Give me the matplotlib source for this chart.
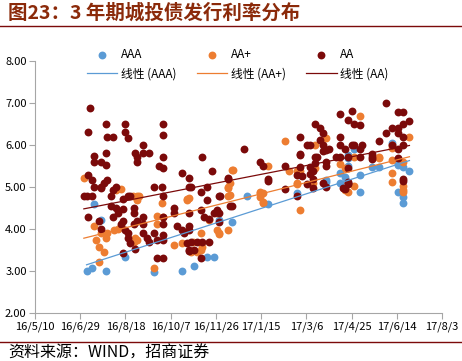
import numpy as np
import pandas as pd
import matplotlib
matplotlib.use("Agg")
import matplotlib.pyplot as plt
import matplotlib.dates as mdates

plt.rcParams['font.family'] = ['Noto Sans CJK SC', 'DejaVu Sans']

# --- data (issue date, coupon rate %) ---
AAA = [("2016-07-06", 3.00), ("2016-07-12", 3.06), ("2016-07-14", 4.60), ("2016-07-22", 4.21),
       ("2016-07-27", 3.00), ("2016-08-18", 3.34), ("2016-09-19", 2.98), ("2016-10-19", 3.01),
       ("2016-11-02", 3.12), ("2016-11-16", 3.34), ("2016-11-24", 3.34), ("2016-11-29", 4.21),
       ("2016-12-14", 4.17), ("2016-12-30", 4.79), ("2017-01-23", 4.60), ("2017-02-24", 4.86),
       ("2017-02-27", 5.29), ("2017-03-28", 5.17), ("2017-03-28", 5.13), ("2017-04-12", 5.34),
       ("2017-04-12", 5.09), ("2017-04-18", 5.23), ("2017-04-21", 5.76), ("2017-04-21", 5.70),
       ("2017-04-21", 5.50), ("2017-04-28", 5.90), ("2017-04-28", 5.96), ("2017-05-04", 4.88),
       ("2017-05-04", 5.29), ("2017-05-18", 5.48), ("2017-05-25", 5.48), ("2017-06-09", 6.04),
       ("2017-06-15", 5.55), ("2017-06-15", 5.52), ("2017-06-15", 4.88), ("2017-06-21", 5.48),
       ("2017-06-21", 4.77), ("2017-06-21", 4.63), ("2017-06-28", 5.38)]

AA_PLUS = [("2016-07-03", 5.21), ("2016-07-14", 4.06), ("2016-07-16", 3.74), ("2016-07-20", 3.22),
           ("2016-07-20", 3.58), ("2016-07-22", 3.90), ("2016-07-25", 3.46), ("2016-07-27", 3.78),
           ("2016-07-29", 3.90), ("2016-08-05", 3.98), ("2016-08-08", 4.93), ("2016-08-10", 4.00),
           ("2016-08-13", 4.95), ("2016-08-13", 4.06), ("2016-08-26", 4.79), ("2016-08-27", 3.70),
           ("2016-08-29", 3.78), ("2016-08-31", 4.69), ("2016-08-31", 4.79), ("2016-08-31", 3.74),
           ("2016-09-02", 4.79), ("2016-09-19", 3.06), ("2016-09-22", 4.11), ("2016-09-22", 4.31),
           ("2016-09-27", 4.61), ("2016-09-29", 4.29), ("2016-10-11", 3.62), ("2016-10-19", 3.66),
           ("2016-10-25", 4.71), ("2016-10-25", 4.69), ("2016-10-27", 4.73), ("2016-10-30", 3.46),
           ("2016-11-01", 3.70), ("2016-11-05", 3.46), ("2016-11-09", 3.90), ("2016-11-09", 3.50),
           ("2016-11-11", 3.58), ("2016-11-18", 4.21), ("2016-11-27", 3.98), ("2016-11-27", 4.37),
           ("2016-11-29", 3.90), ("2016-11-29", 3.88), ("2016-12-09", 3.98), ("2016-12-09", 4.79),
           ("2016-12-09", 4.97), ("2016-12-09", 5.00), ("2016-12-12", 4.81), ("2016-12-12", 5.09),
           ("2016-12-14", 5.40), ("2016-12-15", 5.40), ("2017-01-14", 4.88), ("2017-01-14", 4.77),
           ("2017-01-14", 4.85), ("2017-01-17", 4.85), ("2017-01-17", 4.65), ("2017-01-17", 4.63),
           ("2017-01-23", 5.50), ("2017-02-10", 6.10), ("2017-02-15", 5.39), ("2017-02-24", 5.37),
           ("2017-02-24", 5.10), ("2017-02-24", 5.07), ("2017-02-27", 5.39), ("2017-02-27", 4.45),
           ("2017-03-13", 5.09), ("2017-03-16", 6.00), ("2017-03-16", 5.45), ("2017-03-28", 6.16),
           ("2017-04-12", 5.55), ("2017-04-18", 5.45), ("2017-04-18", 4.93), ("2017-04-21", 4.88),
           ("2017-04-28", 5.71), ("2017-04-28", 5.03), ("2017-05-04", 6.70), ("2017-05-25", 5.71),
           ("2017-05-25", 5.68), ("2017-06-09", 6.00), ("2017-06-09", 5.92), ("2017-06-09", 5.64),
           ("2017-06-09", 5.34), ("2017-06-09", 5.13), ("2017-06-21", 5.60), ("2017-06-21", 5.03),
           ("2017-06-21", 4.93), ("2017-06-21", 4.88), ("2017-06-28", 6.20)]

AA = [("2016-07-03", 4.79), ("2016-07-06", 4.79), ("2016-07-08", 6.30), ("2016-07-08", 5.29),
      ("2016-07-08", 4.29), ("2016-07-10", 6.87), ("2016-07-12", 5.17), ("2016-07-12", 4.79),
      ("2016-07-14", 5.75), ("2016-07-14", 5.60), ("2016-07-14", 5.01), ("2016-07-20", 4.20),
      ("2016-07-22", 5.60), ("2016-07-22", 4.97), ("2016-07-22", 5.01), ("2016-07-22", 4.00),
      ("2016-07-25", 5.09), ("2016-07-27", 5.52), ("2016-07-27", 6.50), ("2016-07-27", 5.80),
      ("2016-07-29", 6.20), ("2016-07-29", 5.17), ("2016-08-02", 4.79), ("2016-08-02", 4.55),
      ("2016-08-04", 6.20), ("2016-08-04", 4.93), ("2016-08-04", 4.29), ("2016-08-08", 5.01),
      ("2016-08-08", 4.49), ("2016-08-10", 4.37), ("2016-08-13", 4.11), ("2016-08-15", 4.71),
      ("2016-08-15", 4.48), ("2016-08-15", 4.20), ("2016-08-15", 3.44), ("2016-08-18", 6.50),
      ("2016-08-18", 6.30), ("2016-08-18", 3.98), ("2016-08-21", 6.16), ("2016-08-21", 3.90),
      ("2016-08-21", 3.78), ("2016-08-21", 4.79), ("2016-08-23", 4.79), ("2016-08-23", 3.66),
      ("2016-08-27", 4.49), ("2016-08-27", 4.37), ("2016-08-27", 4.11), ("2016-08-29", 5.80),
      ("2016-08-29", 3.52), ("2016-08-31", 5.71), ("2016-08-31", 5.59), ("2016-08-31", 4.20),
      ("2016-09-06", 6.00), ("2016-09-06", 5.80), ("2016-09-06", 4.29), ("2016-09-06", 4.11),
      ("2016-09-06", 3.90), ("2016-09-11", 3.78), ("2016-09-13", 5.80), ("2016-09-13", 3.70),
      ("2016-09-19", 3.90), ("2016-09-19", 5.00), ("2016-09-22", 3.74), ("2016-09-22", 3.31),
      ("2016-09-24", 5.50), ("2016-09-27", 5.00), ("2016-09-29", 5.71), ("2016-09-29", 5.46),
      ("2016-09-29", 6.50), ("2016-09-29", 6.25), ("2016-09-29", 4.79), ("2016-09-29", 4.29),
      ("2016-09-29", 4.11), ("2016-09-29", 3.86), ("2016-09-29", 3.74), ("2016-09-29", 3.31),
      ("2016-10-11", 4.49), ("2016-10-11", 4.37), ("2016-10-14", 4.06), ("2016-10-19", 5.34),
      ("2016-10-19", 3.98), ("2016-10-22", 3.90), ("2016-10-25", 3.66), ("2016-10-27", 5.21),
      ("2016-10-27", 5.01), ("2016-10-27", 3.50), ("2016-10-27", 4.37), ("2016-10-27", 4.06),
      ("2016-10-27", 3.98), ("2016-10-27", 3.48), ("2016-10-30", 5.00), ("2016-10-30", 3.70),
      ("2016-11-02", 3.50), ("2016-11-05", 3.70), ("2016-11-09", 3.31), ("2016-11-09", 4.88),
      ("2016-11-09", 4.45), ("2016-11-11", 5.71), ("2016-11-11", 3.70), ("2016-11-13", 4.29),
      ("2016-11-16", 5.01), ("2016-11-16", 4.69), ("2016-11-18", 3.70), ("2016-11-18", 4.25),
      ("2016-11-22", 5.38), ("2016-11-24", 4.37), ("2016-11-27", 4.45), ("2016-11-29", 4.79),
      ("2016-11-29", 4.37), ("2016-11-29", 4.17), ("2016-12-01", 4.79), ("2016-12-09", 5.21),
      ("2016-12-09", 5.19), ("2016-12-12", 4.55), ("2016-12-14", 4.55), ("2016-12-27", 5.90),
      ("2017-01-14", 5.60), ("2017-01-17", 5.50), ("2017-01-23", 5.18), ("2017-01-23", 5.15),
      ("2017-02-10", 5.50), ("2017-02-10", 4.95), ("2017-02-24", 5.29), ("2017-02-24", 4.79),
      ("2017-02-27", 6.20), ("2017-02-27", 5.79), ("2017-02-27", 5.48), ("2017-02-27", 5.76),
      ("2017-03-01", 5.26), ("2017-03-07", 5.07), ("2017-03-07", 6.00), ("2017-03-10", 6.00),
      ("2017-03-10", 5.48), ("2017-03-10", 5.30), ("2017-03-13", 5.38), ("2017-03-13", 5.19),
      ("2017-03-13", 4.97), ("2017-03-16", 6.50), ("2017-03-16", 5.71), ("2017-03-16", 5.58),
      ("2017-03-18", 5.71), ("2017-03-21", 6.12), ("2017-03-21", 6.40), ("2017-03-24", 6.00),
      ("2017-03-24", 6.29), ("2017-03-24", 5.86), ("2017-03-24", 5.09), ("2017-03-28", 5.88),
      ("2017-03-28", 5.60), ("2017-03-28", 5.50), ("2017-03-28", 5.01), ("2017-03-31", 5.90),
      ("2017-04-08", 5.71), ("2017-04-12", 6.75), ("2017-04-12", 6.20), ("2017-04-12", 6.00),
      ("2017-04-12", 5.71), ("2017-04-15", 4.98), ("2017-04-18", 5.90), ("2017-04-18", 4.95),
      ("2017-04-21", 6.60), ("2017-04-21", 5.72), ("2017-04-21", 5.13), ("2017-04-21", 5.10),
      ("2017-04-21", 5.06), ("2017-04-21", 5.45), ("2017-04-25", 6.81), ("2017-04-25", 6.00),
      ("2017-04-28", 6.50), ("2017-04-28", 6.00), ("2017-05-04", 6.48), ("2017-05-04", 5.90),
      ("2017-05-04", 5.72), ("2017-05-06", 6.00), ("2017-05-18", 5.71), ("2017-05-18", 5.79),
      ("2017-05-18", 5.66), ("2017-05-25", 6.10), ("2017-06-02", 6.99), ("2017-06-02", 6.28),
      ("2017-06-09", 6.40), ("2017-06-09", 6.00), ("2017-06-15", 6.79), ("2017-06-15", 6.40),
      ("2017-06-15", 5.90), ("2017-06-15", 6.28), ("2017-06-15", 5.70), ("2017-06-21", 6.79),
      ("2017-06-21", 6.50), ("2017-06-21", 6.00), ("2017-06-21", 6.20), ("2017-06-21", 5.18),
      ("2017-06-21", 5.14), ("2017-06-28", 6.58)]

x_ticks = ["2016-05-10", "2016-06-29", "2016-08-18", "2016-10-07", "2016-11-26",
           "2017-01-15", "2017-03-06", "2017-04-25", "2017-06-14", "2017-08-03"]
x_tick_labels = ["16/5/10", "16/6/29", "16/8/18", "16/10/7", "16/11/26",
                 "17/1/15", "17/3/6", "17/4/25", "17/6/14", "17/8/3"]
y_ticks = [2, 3, 4, 5, 6, 7, 8]

series = [("AAA", AAA, "#5B9BD5"), ("AA+", AA_PLUS, "#ED7D31"), ("AA", AA, "#7B0A0A")]

fig = plt.figure(figsize=(4.62, 3.61), dpi=100)
ax = fig.add_axes([35 / 462, 1 - 313 / 361, 407 / 462, 252 / 361])

handles = []
for name, pts, col in series:
    x = mdates.date2num(pd.to_datetime([p[0] for p in pts]))
    y = np.array([p[1] for p in pts])
    sc = ax.scatter(x, y, s=32, color=col, linewidths=0, zorder=3, label=name)
    k = np.polyfit(x, y, 1)
    xs = np.array([x.min(), x.max()])
    ln, = ax.plot(xs, np.polyval(k, xs), color=col, lw=0.9, zorder=4, label=f"线性 ({name})")
    handles += [sc, ln]

xt = mdates.date2num(pd.to_datetime(x_ticks))
ax.set_xlim(xt[0], xt[-1])
ax.set_xticks(xt)
ax.set_xticklabels(x_tick_labels, fontsize=8)
ax.set_ylim(2, 8)
ax.set_yticks(y_ticks)
ax.set_yticklabels([f"{v:.2f}" for v in y_ticks], fontsize=8)
for s in ["top", "right"]:
    ax.spines[s].set_visible(False)
for s in ["left", "bottom"]:
    ax.spines[s].set_color("#A6A6A6")
    ax.spines[s].set_linewidth(0.8)
ax.tick_params(axis="both", color="#A6A6A6", length=4, width=0.8, pad=2, labelcolor="black")
ax.set_facecolor("none")

fig.legend(handles=handles, ncol=3, loc="upper left", bbox_to_anchor=(82 / 462, 1 - 43 / 361),
           frameon=False, fontsize=8.5, handlelength=2.6, columnspacing=1.7, handletextpad=0.3,
           labelspacing=0.55, borderaxespad=0)

# title and source
fig.text(8 / 462, 1 - 13 / 361, "图23：3 年期城投债发行利率分布", fontsize=14, fontweight="bold",
         color="#8B2A0A", va="center", ha="left")
fig.add_artist(plt.Line2D([0, 1], [1 - 26 / 361, 1 - 26 / 361], color="#7B0A0A", lw=1.0))
fig.add_artist(plt.Line2D([0, 1], [1 - 342 / 361, 1 - 342 / 361], color="#7B0A0A", lw=1.0))
fig.text(8 / 462, 1 - 353 / 361, "资料来源：WIND，招商证券", fontsize=11.5, color="black",
         va="center", ha="left")

fig.savefig("out.png", dpi=100)
